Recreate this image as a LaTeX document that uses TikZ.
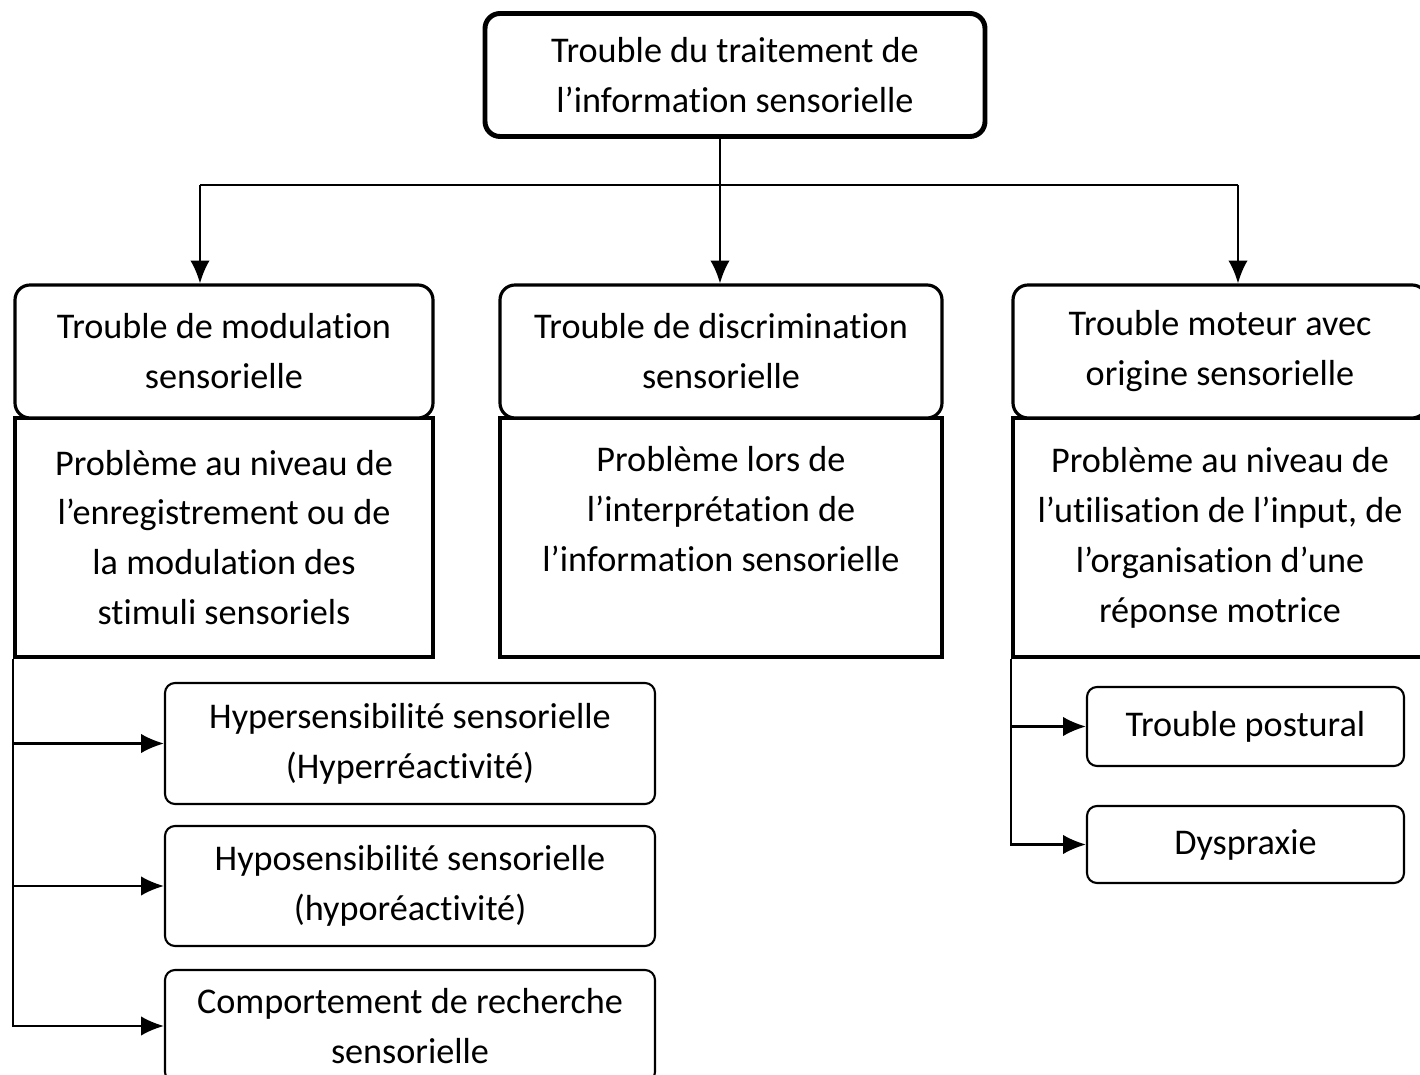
\documentclass[tikz,border=0pt]{standalone}
\usepackage{fontspec}
\setmainfont{Carlito}[RawFeature={-liga;-clig;-calt}]
\usetikzlibrary{arrows.meta}

\begin{document}
\begin{tikzpicture} [font=\fontsize{10.3}{14.2}\selectfont,
        topbox/.style={draw, rounded corners=0.15cm, line width=1.4pt, align=center,
            minimum width=5cm, minimum height=1.23cm},
        head/.style={draw, rounded corners=0.15cm, line width=0.9pt, fill=white, align=center,
            minimum height=1.33cm},
        body/.style={draw, line width=0.9pt, align=center, minimum height=2.39cm},
        leaf/.style={draw, rounded corners=0.1cm, line width=0.6pt, align=center}]
            \useasboundingbox (0,0) rectangle (14.2,-10.75);

            \node[topbox] (root) at (7.35, -0.75) {Trouble du traitement de\\l’information sensorielle};

            \node[body, minimum width=4.18cm] (modb) at (2.24, -5.375)
                {Problème au niveau de\\l’enregistrement ou de\\la modulation des\\stimuli sensoriels};
            \node[body, minimum width=4.42cm] (disb) at (7.21, -5.375)
                {Problème lors de\\l’interprétation de\\l’information sensorielle\\[-2pt] \strut};
            \node[body, minimum width=4.14cm] (motb) at (12.2, -5.375)
                {Problème au niveau de\\l’utilisation de l’input, de\\l’organisation d’une\\réponse motrice};

            \node[head, minimum width=4.18cm] (modh) at (2.24, -3.515)  {Trouble de modulation\\sensorielle};
            \node[head, minimum width=4.42cm] (dish) at (7.21, -3.515)  {Trouble de discrimination\\sensorielle};
            \node[head, minimum width=4.14cm] (moth) at (12.2, -3.515)  {Trouble moteur avec\\origine sensorielle};

            \node[leaf, minimum width=4.9cm, minimum height=1.21cm] (hyper) at (4.1, -7.435)
                {Hypersensibilité sensorielle\\(Hyperréactivité)};
            \node[leaf, minimum width=4.9cm, minimum height=1.2cm] (hypo) at (4.1, -8.86)
                {Hyposensibilité sensorielle\\(hyporéactivité)};
            \node[leaf, minimum width=4.9cm, minimum height=1.12cm] (seek) at (4.1, -10.26)
                {Comportement de recherche\\sensorielle};

            \node[leaf, minimum width=3.17cm, minimum height=0.79cm] (post) at (12.455, -7.265) {Trouble postural};
            \node[leaf, minimum width=3.17cm, minimum height=0.77cm] (dysp) at (12.455, -8.445) {Dyspraxie};

            \coordinate (jl) at (2.0, -1.85);
            \coordinate (jm) at (7.2, -1.85);
            \coordinate (jr) at (12.38, -1.85);

            \begin{scope}[line width=0.6pt, ->, >={Latex[length=6.5pt, width=5.5pt]}]
                \draw[-] (root.south -| jm) -> (jm);
                \draw[-] (jl) -> (jr);
                \draw (jl) -> (jl |- modh.north);
                \draw (jm) -> (jm |- dish.north);
                \draw (jr) -> (jr |- moth.north);

                \draw (modb.south west) |- (seek.west);
                \draw (modb.south west |- hyper.west) -> (hyper.west);
                \draw (modb.south west |- hypo.west) -> (hypo.west);

                \draw (motb.south west) |- (dysp.west);
                \draw (motb.south west |- post.west) -> (post.west);
            \end{scope}
        \end{tikzpicture}
\end{document}
